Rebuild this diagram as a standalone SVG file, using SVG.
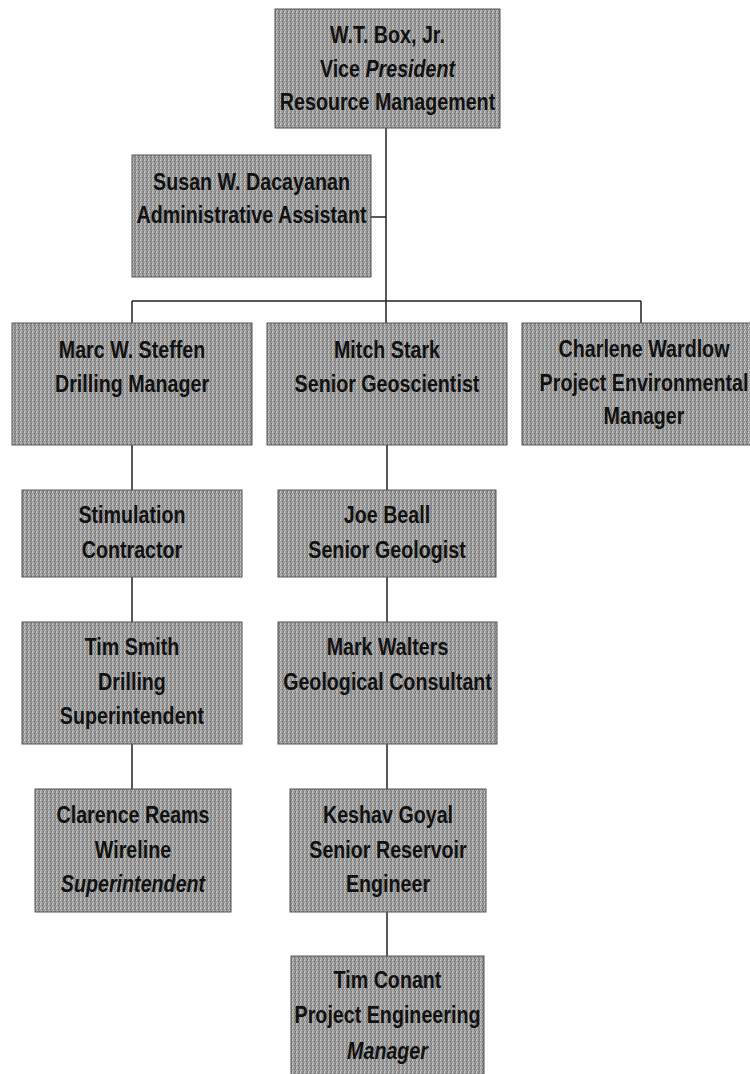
<svg xmlns="http://www.w3.org/2000/svg" width="750" height="1074" viewBox="0 0 750 1074">
  <defs>
    <pattern id="stipple" patternUnits="userSpaceOnUse" width="4" height="4">
      <rect width="4" height="4" fill="#9c9c9c"/>
      <rect x="0" y="0" width="1" height="1" fill="#d0d0d0"/>
      <rect x="2" y="1" width="1" height="1" fill="#6e6e6e"/>
      <rect x="1" y="2" width="1" height="1" fill="#cacaca"/>
      <rect x="3" y="3" width="1" height="1" fill="#747474"/>
      <rect x="3" y="0" width="1" height="1" fill="#808080"/>
      <rect x="0" y="3" width="1" height="1" fill="#bcbcbc"/>
      <rect x="2" y="2" width="1" height="1" fill="#888888"/>
    </pattern>
  </defs>
  <style>
    .box { fill: url(#stipple); stroke: #555555; stroke-width: 1; }
    .t { font-family: "Liberation Sans", Arial, sans-serif; font-weight: bold; font-size: 24px; fill: #111; text-anchor: middle; }
    .i { font-style: italic; }
    .conn { stroke: #222; stroke-width: 1.5; fill: none; }
  </style>
  <rect width="750" height="1074" fill="#ffffff"/>

  <g id="connectors">
    <line class="conn" x1="386" y1="128" x2="386" y2="301"/>
    <line class="conn" x1="371" y1="217" x2="386" y2="217"/>
    <line class="conn" x1="132" y1="301" x2="641" y2="301"/>
    <line class="conn" x1="132" y1="301" x2="132" y2="323"/>
    <line class="conn" x1="386" y1="301" x2="386" y2="323"/>
    <line class="conn" x1="641" y1="301" x2="641" y2="323"/>
    <line class="conn" x1="132" y1="445" x2="132" y2="490"/>
    <line class="conn" x1="132" y1="577" x2="132" y2="622"/>
    <line class="conn" x1="132" y1="744" x2="132" y2="789"/>
    <line class="conn" x1="387" y1="445" x2="387" y2="490"/>
    <line class="conn" x1="387" y1="577" x2="387" y2="622"/>
    <line class="conn" x1="387" y1="744" x2="387" y2="789"/>
    <line class="conn" x1="387" y1="912" x2="387" y2="956"/>
  </g>

  <g id="node-box">
    <rect class="box" x="275" y="9" width="225" height="119"/>
    <g transform="translate(387.5 0) scale(0.82 1)">
      <text class="t" x="0" y="43">W.T. Box, Jr.</text>
      <text class="t" x="0" y="77">Vice <tspan class="i">President</tspan></text>
      <text class="t" x="0" y="110">Resource Management</text>
    </g>
  </g>

  <g id="node-dacayanan">
    <rect class="box" x="132" y="155" width="239" height="122"/>
    <g transform="translate(251.5 0) scale(0.82 1)">
      <text class="t" x="0" y="190">Susan W. Dacayanan</text>
      <text class="t" x="0" y="223">Administrative Assistant</text>
    </g>
  </g>

  <g id="node-steffen">
    <rect class="box" x="12" y="323" width="240" height="122"/>
    <g transform="translate(132 0) scale(0.82 1)">
      <text class="t" x="0" y="358">Marc W. Steffen</text>
      <text class="t" x="0" y="392">Drilling Manager</text>
    </g>
  </g>

  <g id="node-stark">
    <rect class="box" x="267" y="323" width="240" height="122"/>
    <g transform="translate(387 0) scale(0.82 1)">
      <text class="t" x="0" y="358">Mitch Stark</text>
      <text class="t" x="0" y="392">Senior Geoscientist</text>
    </g>
  </g>

  <g id="node-wardlow">
    <rect class="box" x="522" y="323" width="238" height="122"/>
    <g transform="translate(644 0) scale(0.82 1)">
      <text class="t" x="0" y="357">Charlene Wardlow</text>
      <text class="t" x="0" y="391">Project Environmental</text>
      <text class="t" x="0" y="424">Manager</text>
    </g>
  </g>

  <g id="node-stimulation">
    <rect class="box" x="22" y="490" width="220" height="87"/>
    <g transform="translate(132 0) scale(0.82 1)">
      <text class="t" x="0" y="523">Stimulation</text>
      <text class="t" x="0" y="558">Contractor</text>
    </g>
  </g>

  <g id="node-beall">
    <rect class="box" x="278" y="490" width="218" height="87"/>
    <g transform="translate(387 0) scale(0.82 1)">
      <text class="t" x="0" y="523">Joe Beall</text>
      <text class="t" x="0" y="558">Senior Geologist</text>
    </g>
  </g>

  <g id="node-smith">
    <rect class="box" x="22" y="622" width="220" height="122"/>
    <g transform="translate(132 0) scale(0.82 1)">
      <text class="t" x="0" y="655">Tim Smith</text>
      <text class="t" x="0" y="690">Drilling</text>
      <text class="t" x="0" y="724">Superintendent</text>
    </g>
  </g>

  <g id="node-walters">
    <rect class="box" x="278" y="622" width="219" height="122"/>
    <g transform="translate(387.5 0) scale(0.82 1)">
      <text class="t" x="0" y="655">Mark Walters</text>
      <text class="t" x="0" y="690">Geological Consultant</text>
    </g>
  </g>

  <g id="node-reams">
    <rect class="box" x="35" y="789" width="196" height="123"/>
    <g transform="translate(133 0) scale(0.82 1)">
      <text class="t" x="0" y="823">Clarence Reams</text>
      <text class="t" x="0" y="858">Wireline</text>
      <text class="t i" x="0" y="892">Superintendent</text>
    </g>
  </g>

  <g id="node-goyal">
    <rect class="box" x="290" y="789" width="196" height="123"/>
    <g transform="translate(388 0) scale(0.82 1)">
      <text class="t" x="0" y="823">Keshav Goyal</text>
      <text class="t" x="0" y="858">Senior Reservoir</text>
      <text class="t" x="0" y="892">Engineer</text>
    </g>
  </g>

  <g id="node-conant">
    <rect class="box" x="291" y="956" width="193" height="120"/>
    <g transform="translate(387.5 0) scale(0.82 1)">
      <text class="t" x="0" y="988">Tim Conant</text>
      <text class="t" x="0" y="1023">Project Engineering</text>
      <text class="t i" x="0" y="1059">Manager</text>
    </g>
  </g>
</svg>
